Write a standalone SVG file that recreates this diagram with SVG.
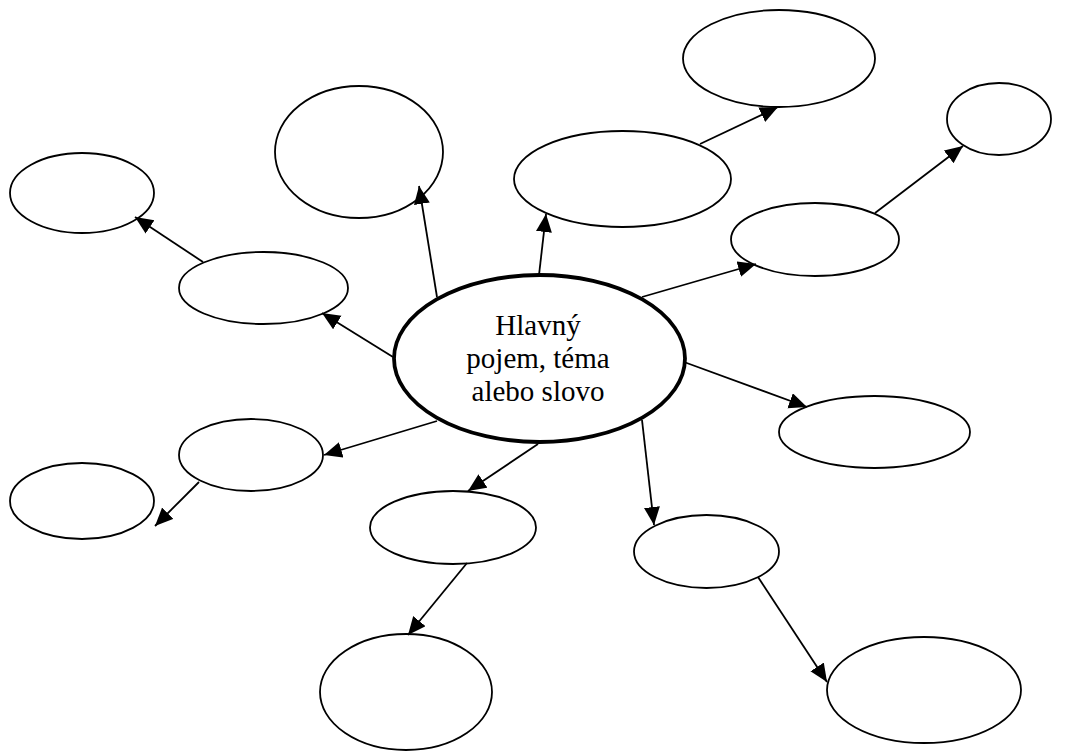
<svg xmlns="http://www.w3.org/2000/svg" width="1068" height="754" viewBox="0 0 1068 754">
<style>
.n{fill:#fff;stroke:#000;stroke-width:1.8}
.main{fill:#fff;stroke:#000;stroke-width:3.8}
.c{stroke:#000;stroke-width:1.8;fill:none;marker-end:url(#ah)}
.t{font-family:"Liberation Serif","Times New Roman",serif;font-size:29px;fill:#000;text-anchor:middle}
</style>
<defs>
<marker id="ah" markerUnits="userSpaceOnUse" markerWidth="20" markerHeight="18" refX="18" refY="8" orient="auto">
<path d="M0,0 L18,8 L0,16 z" fill="#000"/>
</marker>
</defs>
<rect width="1068" height="754" fill="#fff"/>
<g id="n1"><ellipse class="n" cx="779" cy="58.5" rx="96" ry="48.5"/></g>
<g id="n2"><ellipse class="n" cx="359" cy="152" rx="84" ry="66"/></g>
<g id="n3"><ellipse class="n" cx="82" cy="193" rx="72" ry="40"/></g>
<g id="n4"><ellipse class="n" cx="263.5" cy="288" rx="84.5" ry="36"/></g>
<g id="n5"><ellipse class="n" cx="622.5" cy="179" rx="108.5" ry="48"/></g>
<g id="n6"><ellipse class="n" cx="815" cy="239.5" rx="84" ry="36.5"/></g>
<g id="n7"><ellipse class="n" cx="999" cy="119" rx="52" ry="36"/></g>
<g id="n8"><ellipse class="n" cx="874.5" cy="432" rx="95.5" ry="36"/></g>
<g id="n9"><ellipse class="n" cx="251" cy="455" rx="72" ry="36"/></g>
<g id="n10"><ellipse class="n" cx="82" cy="501" rx="72" ry="38"/></g>
<g id="n11"><ellipse class="n" cx="453" cy="527.5" rx="83" ry="36.5"/></g>
<g id="n12"><ellipse class="n" cx="406" cy="692" rx="86" ry="58"/></g>
<g id="n13"><ellipse class="n" cx="706.5" cy="551.5" rx="72.5" ry="36.5"/></g>
<g id="n14"><ellipse class="n" cx="924" cy="690" rx="97" ry="53"/></g>
<g id="main">
<ellipse class="main" cx="539.5" cy="358.5" rx="145.5" ry="83.5"/>
<text class="t" x="538" y="335">Hlavný</text>
<text class="t" x="538" y="368">pojem, téma</text>
<text class="t" x="538" y="401">alebo slovo</text>
</g>
<g id="connectors">
<line class="c" x1="393" y1="357" x2="322" y2="313"/>
<line class="c" x1="203" y1="262" x2="135" y2="217"/>
<line class="c" x1="437" y1="297" x2="419" y2="186"/>
<line class="c" x1="539" y1="275" x2="546" y2="214"/>
<line class="c" x1="700" y1="144" x2="778" y2="107"/>
<line class="c" x1="642" y1="297" x2="756" y2="264"/>
<line class="c" x1="875" y1="213" x2="963" y2="146"/>
<line class="c" x1="684" y1="362" x2="807" y2="407"/>
<line class="c" x1="642" y1="420" x2="654" y2="525"/>
<line class="c" x1="758" y1="577" x2="827" y2="682"/>
<line class="c" x1="538" y1="444" x2="468" y2="491"/>
<line class="c" x1="467" y1="563" x2="408" y2="635"/>
<line class="c" x1="437" y1="421" x2="324" y2="455"/>
<line class="c" x1="199" y1="482" x2="155" y2="526"/>
</g>
</svg>
